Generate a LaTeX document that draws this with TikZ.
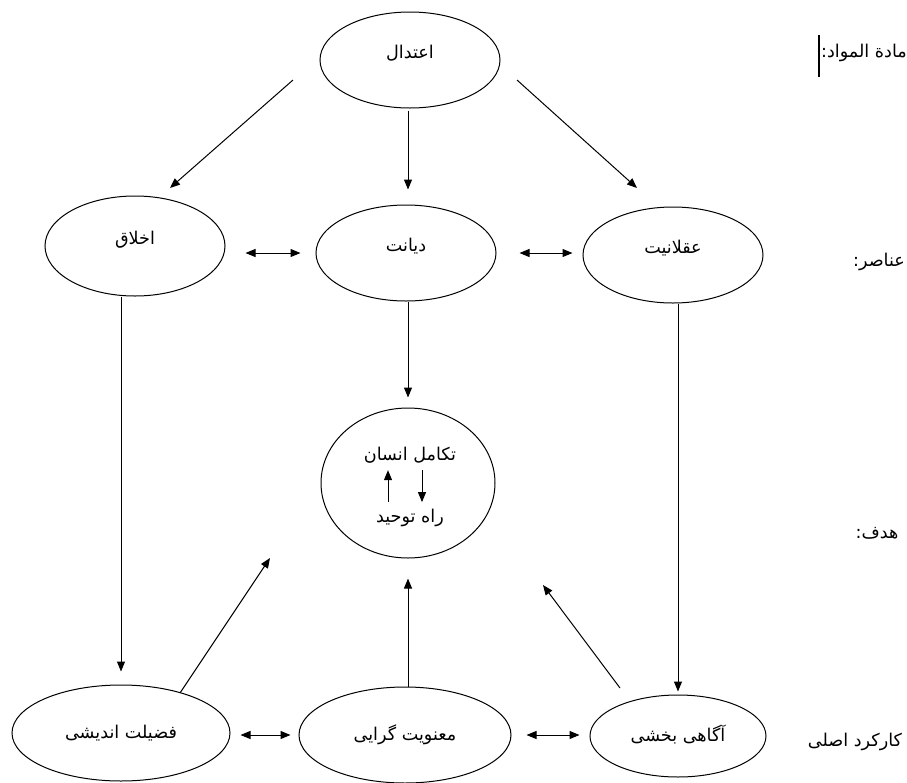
\documentclass[tikz,border=0pt]{standalone}
\usepackage{fontspec}
\newfontfamily\arabicfont[Script=Arabic]{DejaVu Sans}
\TeXXeTstate=1
\usetikzlibrary{shapes.geometric, arrows.meta}

\newcommand{\rtl}[1]{\beginR #1\endR}
\newcommand{\lift}[1]{\raisebox{8pt}{#1}}

\tikzset{
    oval/.style={draw, ellipse, inner sep=0pt, line width=0.5pt},
    arr/.style={-{Triangle[length=5pt, width=4pt]}, line width=0.5pt},
    dbl/.style={{Triangle[length=5pt, width=4pt]}-{Triangle[length=5pt, width=4pt]}, line width=0.5pt}
}

\begin{document}
\begin{tikzpicture}[x=0.5pt, y=-0.5pt, font=\arabicfont\fontsize{8.8}{10}\selectfont]
\useasboundingbox (0, 0) rectangle (907, 783);

% Draw ellipses.
\node[oval, minimum width=90pt, minimum height=48pt] (etedal) at (410, 60) {\lift{\rtl{اعتدال}}};
\node[oval, minimum width=90pt, minimum height=50pt] (akhlagh) at (135, 246) {\lift{\rtl{اخلاق}}};
\node[oval, minimum width=90pt, minimum height=48pt] (diyanat) at (406, 253) {\lift{\rtl{دیانت}}};
\node[oval, minimum width=90pt, minimum height=48pt] (aql) at (673, 255) {\lift{\rtl{عقلانیت}}};
\node[oval, minimum width=87pt, minimum height=75pt] (kamal) at (408, 483) {};
\node[oval, minimum width=109pt, minimum height=48pt] (fazilat) at (121, 733) {\rtl{فضیلت اندیشی}};
\node[oval, minimum width=106pt, minimum height=48pt] (manavi) at (405, 735) {\rtl{معنویت گرایی}};
\node[oval, minimum width=88pt, minimum height=41pt] (agahi) at (678, 736) {\raisebox{3pt}{\rtl{آگاهی بخشی}}};

% Draw goal text.
\node (ensan) at (410, 455) {\rtl{تکامل انسان}};
\node (tawhid) at (410, 518) {\rtl{راه توحید}};
\draw[arr] ([xshift=-11pt]tawhid.north) -- ([xshift=-11pt]ensan.south);
\draw[arr] ([xshift=6pt]ensan.south) -- ([xshift=6pt]tawhid.north);

% Draw row labels.
\node (mavad) at (864, 53) {\rtl{مادة المواد:}};
\node (anasir) at (879, 262) {\rtl{عناصر:}};
\node (hadaf) at (877, 533) {\rtl{هدف:}};
\node (karkard) at (855, 742) {\rtl{کارکرد اصلی}};
\draw[line width=0.6pt] (819, 35) -- (819, 77);

% Draw free arrow ends.
\coordinate (e1) at (293, 80);
\coordinate (a1) at (170, 188);
\coordinate (e2) at (517, 80);
\coordinate (q1) at (637, 188);
\coordinate (f1) at (180, 693);
\coordinate (k1) at (270, 558);
\coordinate (g1) at (620, 688);
\coordinate (k2) at (543, 585);

\draw[arr] (e1) -- (a1);
\draw[arr] (e2) -- (q1);
\draw[arr, shorten <=1pt, shorten >=7.5pt] (etedal.south -| kamal) -- (diyanat.north -| kamal);

\draw[dbl, shorten <=10pt, shorten >=7.5pt] (akhlagh.east |- diyanat.west) -- (diyanat.west);
\draw[dbl, shorten <=11.5pt, shorten >=5pt] (diyanat.east) -- (aql.west |- diyanat.east);

\draw[arr, shorten >=5pt] (diyanat.south -| kamal) -- (kamal.north);
\draw[arr, shorten >=6.5pt] (fazilat |- akhlagh.south) -- (fazilat.north);
\draw[arr, shorten >=1.5pt] (agahi |- aql.south) -- (agahi.north);

\draw[arr] (f1) -- (k1);
\draw[arr, shorten >=10pt] (manavi.north -| kamal) -- (kamal.south);
\draw[arr] (g1) -- (k2);

\draw[dbl, shorten <=5pt, shorten >=4pt] (fazilat.east |- manavi.west) -- (manavi.west);
\draw[dbl, shorten <=7.5pt, shorten >=5pt] (manavi.east) -- (agahi.west |- manavi.east);
\end{tikzpicture}
\end{document}
